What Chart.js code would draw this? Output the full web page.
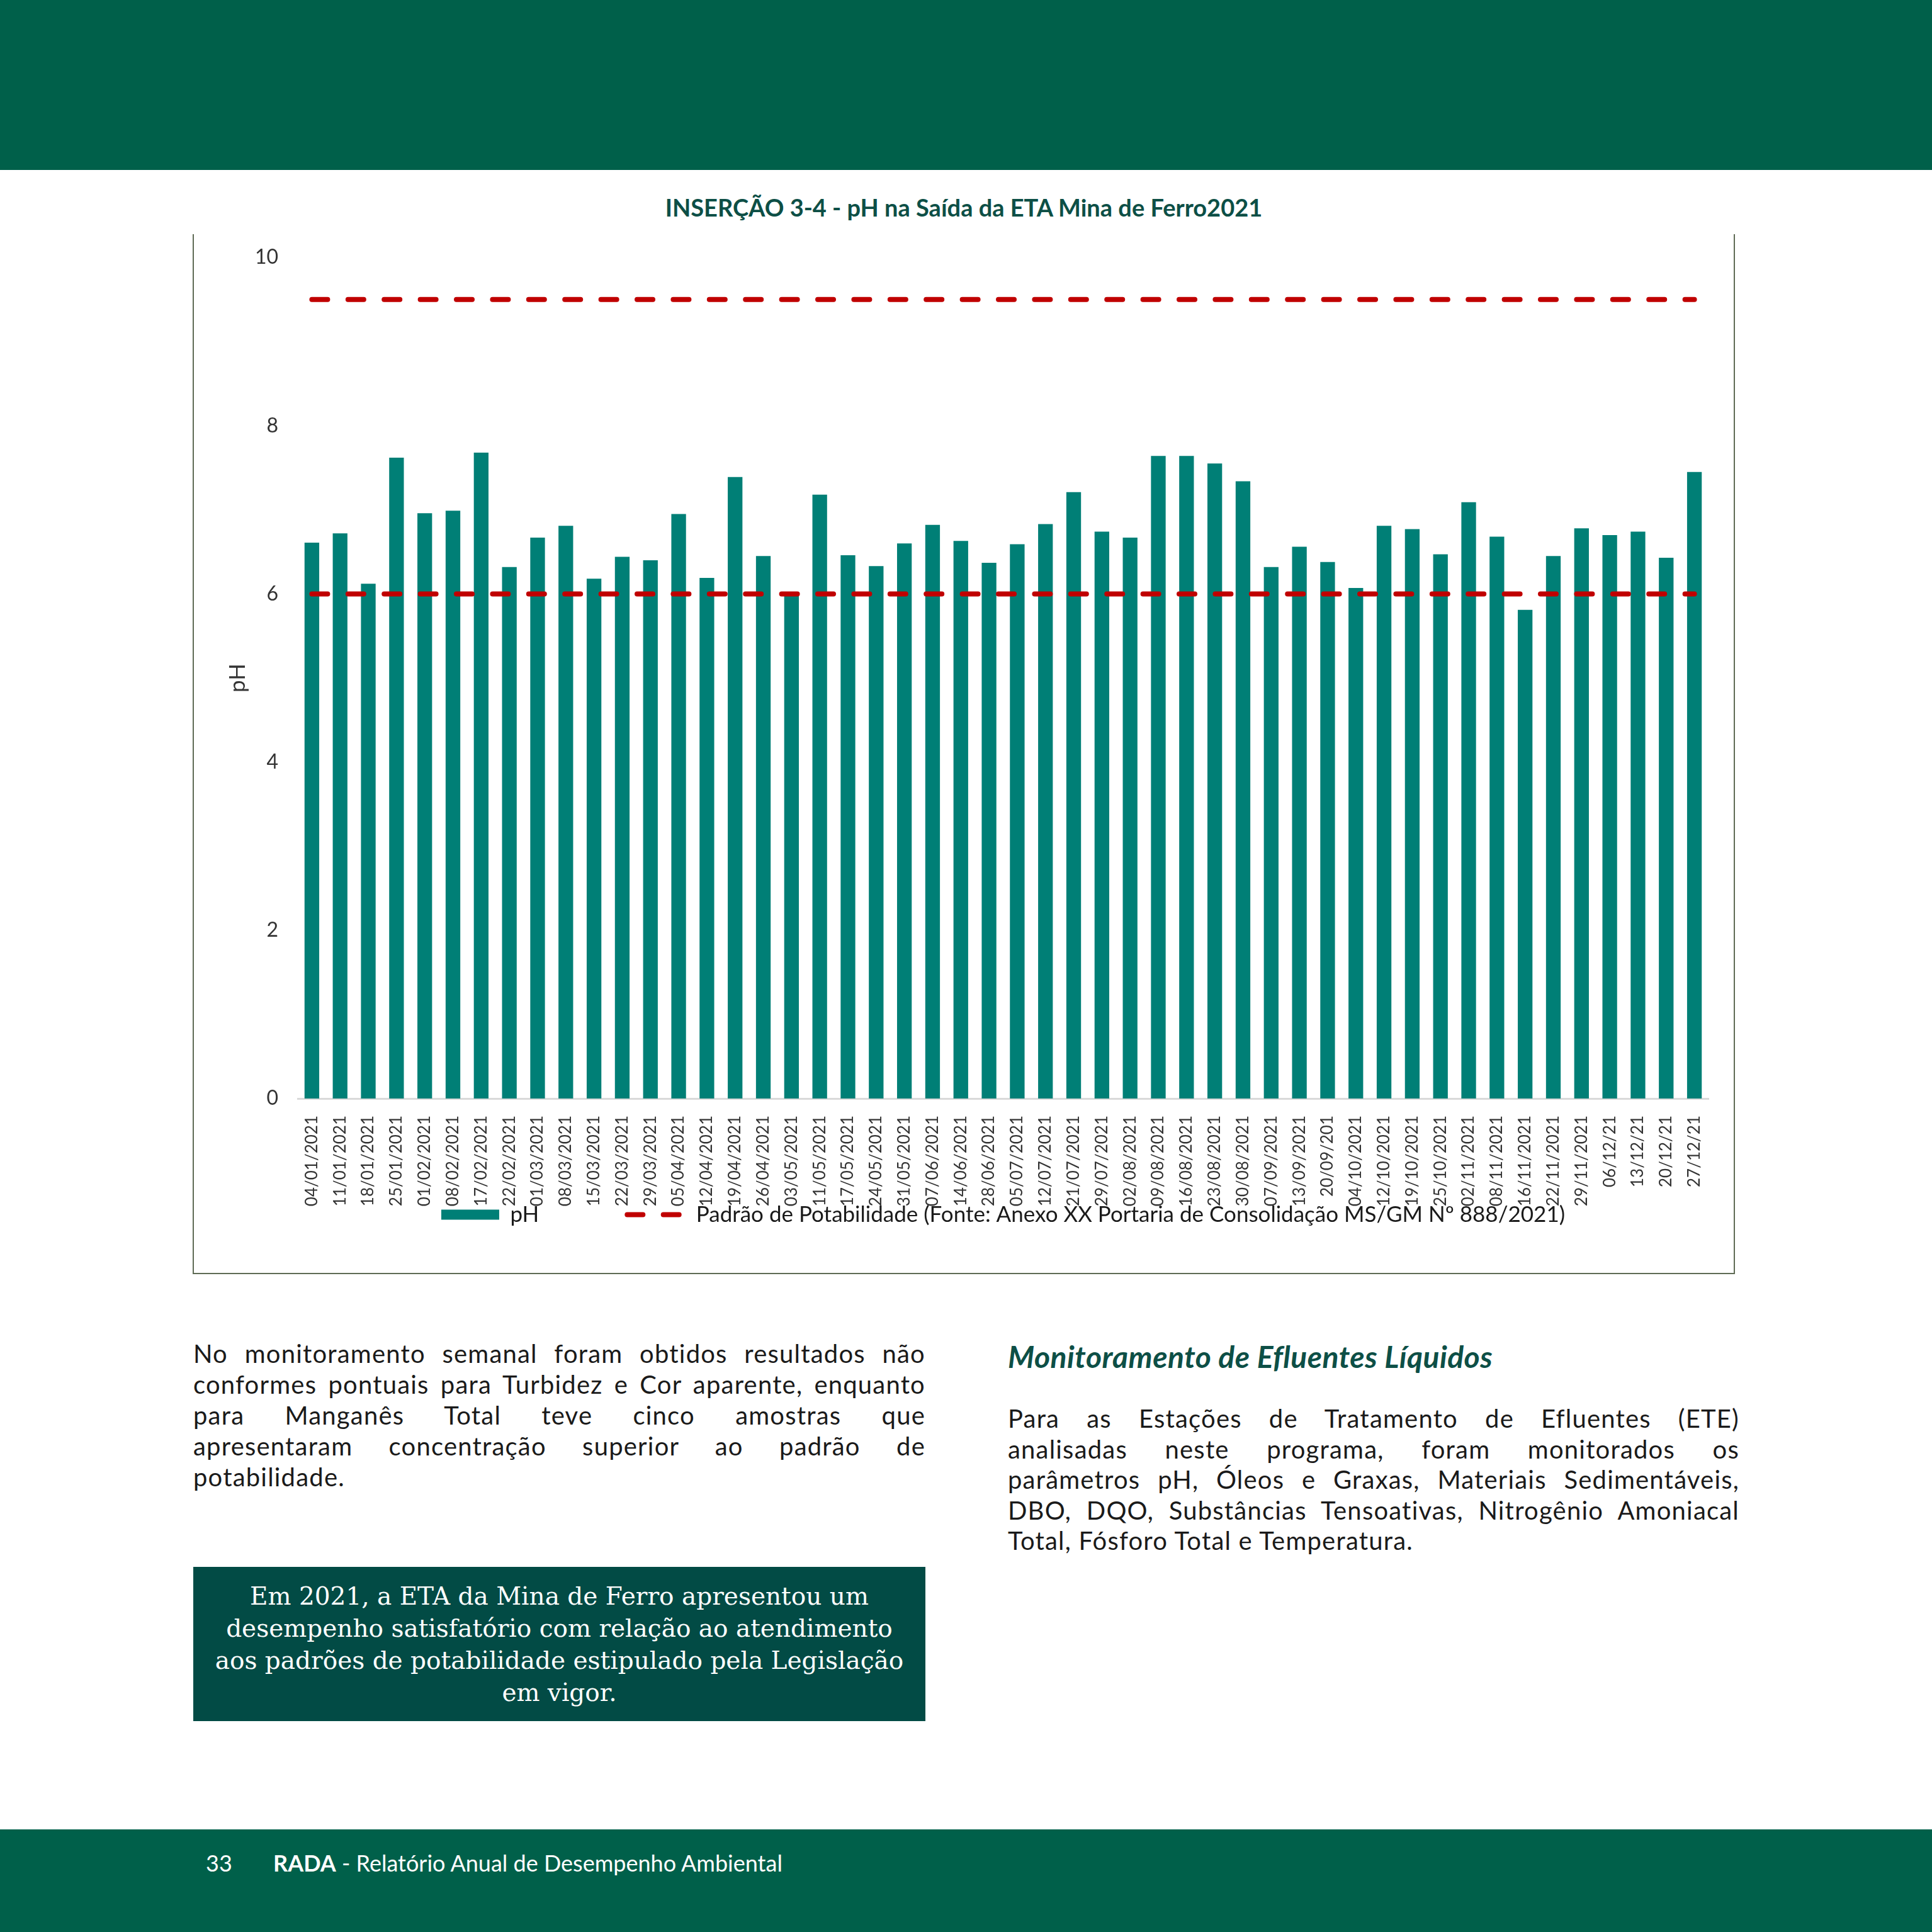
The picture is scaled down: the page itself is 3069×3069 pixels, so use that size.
<!DOCTYPE html>
<html lang="pt-BR">
<head>
<meta charset="utf-8">
<title>INSERÇÃO 3-4 - pH na Saída da ETA Mina de Ferro2021</title>
<script src="https://cdn.jsdelivr.net/npm/chart.js@4.4.1/dist/chart.umd.min.js"></script>
<style>
  html, body { margin: 0; padding: 0; background: #fff; }
  body { width: 3069px; height: 3069px; position: relative; overflow: hidden; font-family: Lato, "Open Sans", sans-serif; color: #1a1a1a; }
  .band { position: absolute; left: 0; width: 3069px; background: #00604a; }
  #chartTitle { position: absolute; left: 308px; width: 2446px; top: 307px; line-height: 44px; text-align: center; font-weight: 700; font-size: 38px; color: #0d4f46; }
  #chartBox { position: absolute; left: 306px; top: 372px; width: 2446px; height: 1650px; border: 2px solid #5f6b55; border-top: none; }
  .para { position: absolute; width: 1163px; font-size: 40px; letter-spacing: 1.2px; line-height: 49px; }
  .para div { text-align: justify; text-align-last: justify; white-space: nowrap; }
  .para div.last { text-align-last: left; }
  #leftText { left: 307px; top: 2126px; }
  #rightHead { position: absolute; left: 1601px; top: 2130px; line-height: 50px; font-size: 48px; letter-spacing: 0.5px; font-weight: 700; font-style: italic; color: #0d4f46; }
  #rightText { left: 1601px; top: 2229px; width: 1162px; line-height: 48.5px; }
  #note { position: absolute; left: 307px; top: 2489px; width: 1163px; height: 245px; background: #024b45; color: #fff; font-family: "DejaVu Serif", serif; font-size: 39px; line-height: 51px; text-align: center; box-sizing: border-box; padding-top: 21px; }
  #note div { white-space: nowrap; }
  .foot { position: absolute; top: 2939px; line-height: 40px; font-size: 36px; color: #fff; white-space: nowrap; }
</style>
</head>
<body>
<div class="band" style="top:0;height:270px"></div>
<div class="band" style="top:2906px;height:163px"></div>

<div id="chartTitle">INSERÇÃO 3-4 - pH na Saída da ETA Mina de Ferro2021</div>
<div id="chartBox"><canvas id="phChart"></canvas></div>

<div class="para" id="leftText">
  <div>No monitoramento semanal foram obtidos resultados não</div>
  <div>conformes pontuais para Turbidez e Cor aparente, enquanto</div>
  <div>para Manganês Total teve cinco amostras que</div>
  <div>apresentaram concentração superior ao padrão de</div>
  <div class="last">potabilidade.</div>
</div>

<div id="rightHead">Monitoramento de Efluentes Líquidos</div>
<div class="para" id="rightText">
  <div>Para as Estações de Tratamento de Efluentes (ETE)</div>
  <div>analisadas neste programa, foram monitorados os</div>
  <div>parâmetros pH, Óleos e Graxas, Materiais Sedimentáveis,</div>
  <div>DBO, DQO, Substâncias Tensoativas, Nitrogênio Amoniacal</div>
  <div class="last">Total, Fósforo Total e Temperatura.</div>
</div>

<div id="note">
  <div>Em 2021, a ETA da Mina de Ferro apresentou um</div>
  <div>desempenho satisfatório com relação ao atendimento</div>
  <div>aos padrões de potabilidade estipulado pela Legislação</div>
  <div>em vigor.</div>
</div>

<div class="foot" style="left:327px">33</div>
<div class="foot" style="left:434px"><b>RADA</b> - Relatório Anual de Desempenho Ambiental</div>

<script>
// weekly sampling dates, as printed on the x axis
const sampleDates = [
  "04/01/2021", "11/01/2021", "18/01/2021", "25/01/2021",
  "01/02/2021", "08/02/2021", "17/02/2021", "22/02/2021",
  "01/03/2021", "08/03/2021", "15/03/2021", "22/03/2021", "29/03/2021",
  "05/04/2021", "12/04/2021", "19/04/2021", "26/04/2021",
  "03/05/2021", "11/05/2021", "17/05/2021", "24/05/2021", "31/05/2021",
  "07/06/2021", "14/06/2021", "28/06/2021",
  "05/07/2021", "12/07/2021", "21/07/2021", "29/07/2021",
  "02/08/2021", "09/08/2021", "16/08/2021", "23/08/2021", "30/08/2021",
  "07/09/2021", "13/09/2021", "20/09/201",
  "04/10/2021", "12/10/2021", "19/10/2021", "25/10/2021",
  "02/11/2021", "08/11/2021", "16/11/2021", "22/11/2021", "29/11/2021",
  "06/12/21", "13/12/21", "20/12/21", "27/12/21",
];

// pH measured at the ETA outlet
const phValues = [
  6.61, 6.72, 6.12, 7.62, 6.96, 6.99, 7.68, 6.32, 6.67, 6.81,
  6.18, 6.44, 6.40, 6.95, 6.19, 7.39, 6.45, 6.01, 7.18, 6.46,
  6.33, 6.60, 6.82, 6.63, 6.37, 6.59, 6.83, 7.21, 6.74, 6.67,
  7.64, 7.64, 7.55, 7.34, 6.32, 6.56, 6.38, 6.07, 6.81, 6.77,
  6.47, 7.09, 6.68, 5.81, 6.45, 6.78, 6.70, 6.74, 6.43, 7.45,
];

// potability range (min / max)
const lowerLimit = 6.0;
const upperLimit = 9.5;
const limitLabel = "Padrão de Potabilidade (Fonte: Anexo XX Portaria de Consolidação MS/GM Nº 888/2021)";

const yTicks = [0, 2, 4, 6, 8, 10];

const barColor = "#007f76";
const limitColor = "#c00000";
const limitDash = [25, 32.4];

function limitDataset(value) {
  return {
    type: "line",
    label: limitLabel,
    data: sampleDates.map(() => value),
    borderColor: limitColor,
    backgroundColor: limitColor,
    borderWidth: 8,
    borderDash: limitDash,
    borderCapStyle: "round",
    pointRadius: 0,
    pointHoverRadius: 0,
    fill: false,
    order: 1,
  };
}

// the original legend row sits over the ends of the date labels,
// so pull the top of the legend box up after the layout is done
const legendOverlap = {
  id: "legendOverlap",
  afterLayout(chart) {
    const legend = chart.legend;
    if (!legend) return;
    legend.top -= legend.options.labels.padding + 8;
  },
};

const ctx = document.getElementById("phChart").getContext("2d");

new Chart(ctx, {
  type: "bar",
  data: {
    labels: sampleDates,
    datasets: [
      {
        type: "bar",
        label: "pH",
        data: phValues,
        backgroundColor: barColor,
        barPercentage: 0.52,
        categoryPercentage: 1,
        order: 2,
      },
      limitDataset(upperLimit),
      limitDataset(lowerLimit),
    ],
  },
  plugins: [legendOverlap],
  options: {
    responsive: true,
    maintainAspectRatio: false,
    animation: false,
    layout: { padding: { top: 37, right: 40, bottom: 47, left: 0 } },
    scales: {
      x: {
        grid: { display: false, drawTicks: false },
        border: { display: true, color: "#d9d9d9", width: 3 },
        ticks: {
          autoSkip: false,
          minRotation: 90,
          maxRotation: 90,
          padding: 27,
          color: "#333",
          font: { family: "Lato", size: 26 },
        },
        afterFit: (scale) => { scale.height = 175; },
      },
      y: {
        min: yTicks[0],
        max: yTicks[yTicks.length - 1],
        afterBuildTicks: (scale) => { scale.ticks = yTicks.map((v) => ({ value: v })); },
        grid: { display: false, drawTicks: false },
        border: { display: false },
        ticks: { padding: 31, color: "#333", font: { family: "Lato", size: 32 } },
        title: {
          display: true,
          text: "pH",
          color: "#333",
          font: { family: "Lato", size: 35 },
          padding: { top: 49, bottom: 0 },
        },
        afterFit: (scale) => {
          scale.width = 165;
          scale.paddingTop = 0;
          scale.paddingBottom = 0;
        },
      },
    },
    plugins: {
      tooltip: { enabled: false },
      legend: {
        position: "bottom",
        fullSize: false,
        maxHeight: 55,
        labels: {
          usePointStyle: true,
          pointStyleWidth: 92,
          boxHeight: 16,
          padding: 140,
          color: "#1a1a1a",
          font: { family: "Lato", size: 35 },
          filter: (item) => item.datasetIndex !== 2,
          sort: (a, b) => a.datasetIndex - b.datasetIndex,
          generateLabels: (chart) => {
            const items = Chart.defaults.plugins.legend.labels.generateLabels(chart);
            return items.map((item) => {
              const ds = chart.data.datasets[item.datasetIndex];
              if (ds.type === "bar") {
                item.pointStyle = "rect";
                item.fillStyle = ds.backgroundColor;
                item.lineWidth = 0;
              } else {
                item.pointStyle = "line";
                item.strokeStyle = ds.borderColor;
                item.lineWidth = ds.borderWidth;
                item.lineDash = ds.borderDash;
                item.lineCap = ds.borderCapStyle;
              }
              return item;
            });
          },
        },
      },
    },
  },
});
</script>
</body>
</html>
